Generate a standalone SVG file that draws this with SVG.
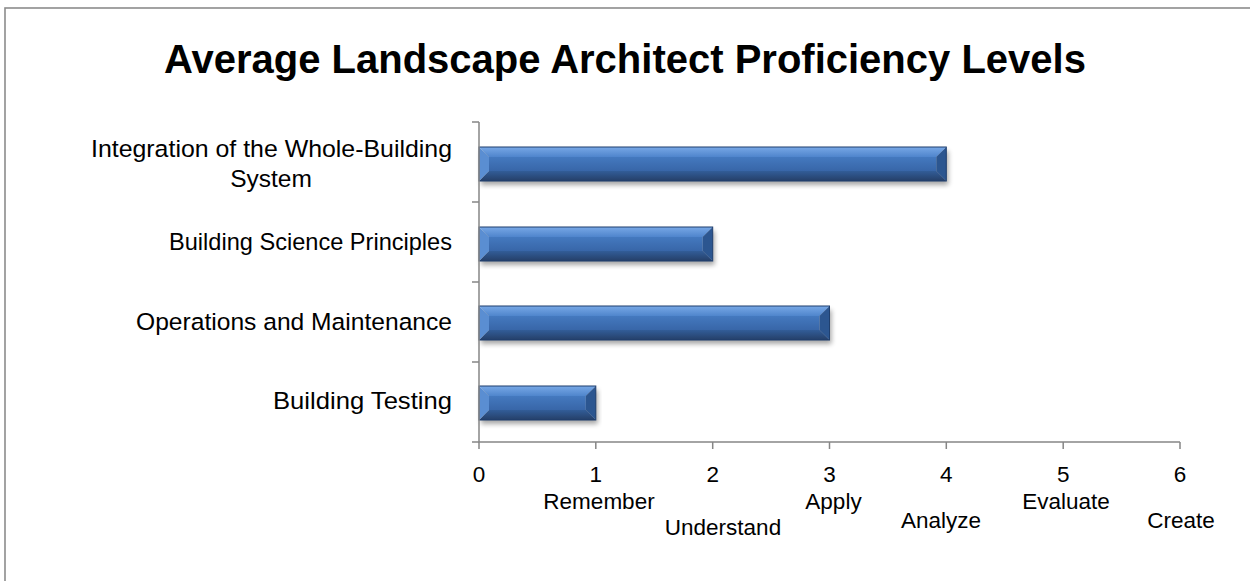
<svg xmlns="http://www.w3.org/2000/svg" width="1250" height="581" viewBox="0 0 1250 581">
  <defs>
    <style>
      .title { font-family: "Liberation Sans", Arial, sans-serif; font-weight: bold; font-size: 40px; fill: #000; }
      .cat { font-family: "Liberation Sans", Arial, sans-serif; font-size: 24.5px; fill: #000; }
      .tick { font-family: "Liberation Sans", Arial, sans-serif; font-size: 22.5px; fill: #000; text-anchor: middle; }
      .axis { stroke: #868686; stroke-width: 1.5; fill: none; }
      .edge { fill: none; stroke: #1f3f6e; stroke-width: 1; }
    </style>
    <linearGradient id="gTop" x1="0" y1="0" x2="0" y2="1">
      <stop offset="0" stop-color="#78a8e6"/>
      <stop offset="1" stop-color="#4f85cc"/>
    </linearGradient>
    <linearGradient id="gMid" x1="0" y1="0" x2="0" y2="1">
      <stop offset="0" stop-color="#4479bf"/>
      <stop offset="1" stop-color="#3866a8"/>
    </linearGradient>
    <linearGradient id="gBot" x1="0" y1="0" x2="0" y2="1">
      <stop offset="0" stop-color="#325d98"/>
      <stop offset="1" stop-color="#253f68"/>
    </linearGradient>
    <filter id="shadow" x="-5%" y="-40%" width="110%" height="200%">
      <feGaussianBlur in="SourceAlpha" stdDeviation="2.5"/>
      <feOffset dx="2" dy="4" result="b"/>
      <feComponentTransfer><feFuncA type="linear" slope="0.35"/></feComponentTransfer>
    </filter>
  </defs>

  <rect x="0" y="0" width="1250" height="581" fill="#ffffff"/>
  <rect x="5" y="8" width="1270" height="600" fill="#ffffff" stroke="#8c8c8c" stroke-width="1.6"/>

  <g id="title">
    <text class="title" x="625" y="73" text-anchor="middle">Average Landscape Architect Proficiency Levels</text>
  </g>

  <g id="bar-integration">
    <rect x="479" y="147" width="467.3" height="34" fill="#000" filter="url(#shadow)"/>
    <polygon points="479,147 946.3,147 936.3,157 489,157" fill="url(#gTop)"/>
    <polygon points="479,181 946.3,181 936.3,171 489,171" fill="url(#gBot)"/>
    <polygon points="479,147 489,157 489,171 479,181" fill="#5a8ed2"/>
    <polygon points="946.3,147 936.3,157 936.3,171 946.3,181" fill="#2c5690"/>
    <rect x="489" y="157" width="447.3" height="14" fill="url(#gMid)"/>
    <rect class="edge" x="479" y="147" width="467.3" height="34"/>
  </g>

  <g id="bar-science">
    <rect x="479" y="227" width="233.7" height="34" fill="#000" filter="url(#shadow)"/>
    <polygon points="479,227 712.7,227 702.7,237 489,237" fill="url(#gTop)"/>
    <polygon points="479,261 712.7,261 702.7,251 489,251" fill="url(#gBot)"/>
    <polygon points="479,227 489,237 489,251 479,261" fill="#5a8ed2"/>
    <polygon points="712.7,227 702.7,237 702.7,251 712.7,261" fill="#2c5690"/>
    <rect x="489" y="237" width="213.7" height="14" fill="url(#gMid)"/>
    <rect class="edge" x="479" y="227" width="233.7" height="34"/>
  </g>

  <g id="bar-operations">
    <rect x="479" y="306" width="350.5" height="34" fill="#000" filter="url(#shadow)"/>
    <polygon points="479,306 829.5,306 819.5,316 489,316" fill="url(#gTop)"/>
    <polygon points="479,340 829.5,340 819.5,330 489,330" fill="url(#gBot)"/>
    <polygon points="479,306 489,316 489,330 479,340" fill="#5a8ed2"/>
    <polygon points="829.5,306 819.5,316 819.5,330 829.5,340" fill="#2c5690"/>
    <rect x="489" y="316" width="330.5" height="14" fill="url(#gMid)"/>
    <rect class="edge" x="479" y="306" width="350.5" height="34"/>
  </g>

  <g id="bar-testing">
    <rect x="479" y="386" width="116.8" height="34" fill="#000" filter="url(#shadow)"/>
    <polygon points="479,386 595.8,386 585.8,396 489,396" fill="url(#gTop)"/>
    <polygon points="479,420 595.8,420 585.8,410 489,410" fill="url(#gBot)"/>
    <polygon points="479,386 489,396 489,410 479,420" fill="#5a8ed2"/>
    <polygon points="595.8,386 585.8,396 585.8,410 595.8,420" fill="#2c5690"/>
    <rect x="489" y="396" width="96.8" height="14" fill="url(#gMid)"/>
    <rect class="edge" x="479" y="386" width="116.8" height="34"/>
  </g>

  <g id="axes">
    <path class="axis" d="M479,122 V442 H1180"/>
    <path class="axis" d="M472,122 H479 M472,202 H479 M472,282 H479 M472,362 H479 M472,442 H479"/>
    <path class="axis" d="M479,442 V449 M595.8,442 V449 M712.7,442 V449 M829.5,442 V449 M946.3,442 V449 M1063.2,442 V449 M1180,442 V449"/>
  </g>

  <g id="category-labels">
    <text class="cat" x="452" y="157" text-anchor="end" textLength="361" lengthAdjust="spacingAndGlyphs">Integration of the Whole-Building</text>
    <text class="cat" x="271" y="187" text-anchor="middle">System</text>
    <text class="cat" x="452" y="250" text-anchor="end" textLength="283" lengthAdjust="spacingAndGlyphs">Building Science Principles</text>
    <text class="cat" x="452" y="330" text-anchor="end" textLength="316" lengthAdjust="spacingAndGlyphs">Operations and Maintenance</text>
    <text class="cat" x="452" y="409" text-anchor="end" textLength="179" lengthAdjust="spacingAndGlyphs">Building Testing</text>
  </g>

  <g id="value-labels">
    <text class="tick" x="479" y="482">0</text>
    <text class="tick" x="595.8" y="482">1</text>
    <text class="tick" x="712.7" y="482">2</text>
    <text class="tick" x="829.5" y="482">3</text>
    <text class="tick" x="946.3" y="482">4</text>
    <text class="tick" x="1063.2" y="482">5</text>
    <text class="tick" x="1180" y="482">6</text>
    <text class="tick" x="599" y="509">Remember</text>
    <text class="tick" x="723" y="535">Understand</text>
    <text class="tick" x="833.5" y="509">Apply</text>
    <text class="tick" x="941" y="528">Analyze</text>
    <text class="tick" x="1066" y="509">Evaluate</text>
    <text class="tick" x="1181" y="528">Create</text>
  </g>
</svg>
